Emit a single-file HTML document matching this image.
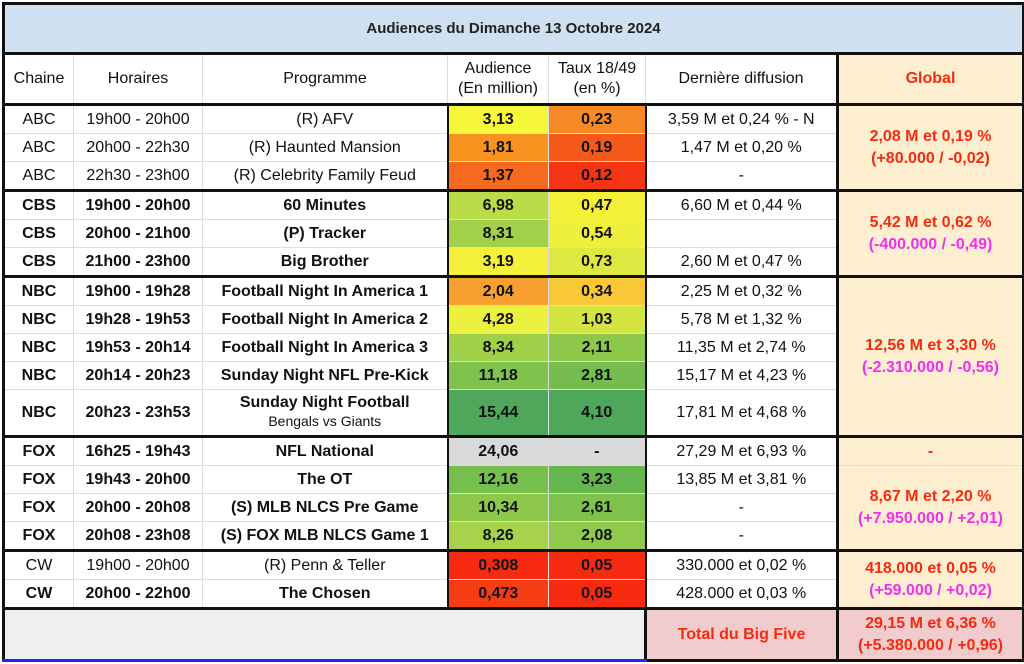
<!DOCTYPE html><html><head><style>
body{margin:0;background:#fff;width:1024px;height:664px;overflow:hidden;font-family:"Liberation Sans",Arial,sans-serif}
table{position:absolute;left:2px;top:2px;border-collapse:collapse;table-layout:fixed;width:1020px}
td{border:1px solid #ddd;text-align:center;font-size:16px;color:#111;padding:0;white-space:nowrap;overflow:hidden}
tr.r td{height:27px}
.t td{border-top:3px solid #111}
.g{background:#fdefcf;font-weight:bold;color:#f52a10;font-size:16px;border-left:3px solid #111;border-right:3px solid #111;line-height:22px}
.m{color:#f030f0}
.k{font-weight:bold}
</style></head><body>
<table>
<colgroup><col style="width:70px"><col style="width:129px"><col style="width:245px"><col style="width:101px"><col style="width:97px"><col style="width:192px"><col style="width:186px"></colgroup>
<tr><td colspan="7" style="height:47px;background:#cfe0f0;border:3px solid #111;font-weight:bold;font-size:15px;color:#222">Audiences du Dimanche 13 Octobre 2024</td></tr>
<tr><td style="height:48px;border-left:3px solid #111">Chaine</td><td>Horaires</td><td>Programme</td><td style="line-height:20px">Audience<br>(En million)</td><td style="line-height:20px">Taux 18/49<br>(en %)</td><td>Dernière diffusion</td><td class="g" style="border-top:3px solid #111">Global</td></tr>
<tr class="r t"><td style="border-left:3px solid #111">ABC</td><td>19h00 - 20h00</td><td>(R) AFV</td><td class="k" style="background:#f8f83a;border-left:2px solid #111">3,13</td><td class="k" style="background:#f78a24">0,23</td><td style="border-left:2px solid #111">3,59 M et 0,24 % - N</td><td class="g" rowspan="3">2,08 M et 0,19 %<br>(+80.000 / -0,02)</td></tr>
<tr class="r"><td style="border-left:3px solid #111">ABC</td><td>20h00 - 22h30</td><td>(R) Haunted Mansion</td><td class="k" style="background:#f7931e;border-left:2px solid #111">1,81</td><td class="k" style="background:#f55a1a">0,19</td><td style="border-left:2px solid #111">1,47 M et 0,20 %</td></tr>
<tr class="r"><td style="border-left:3px solid #111">ABC</td><td>22h30 - 23h00</td><td>(R) Celebrity Family Feud</td><td class="k" style="background:#f56a1e;border-left:2px solid #111">1,37</td><td class="k" style="background:#f53414">0,12</td><td style="border-left:2px solid #111">-</td></tr>
<tr class="r t"><td class="k" style="border-left:3px solid #111">CBS</td><td class="k">19h00 - 20h00</td><td class="k">60 Minutes</td><td class="k" style="background:#b9dc48;border-left:2px solid #111">6,98</td><td class="k" style="background:#f4f038">0,47</td><td style="border-left:2px solid #111">6,60 M et 0,44 %</td><td class="g" rowspan="3">5,42 M et 0,62 %<br><span class="m">(-400.000 / -0,49)</span></td></tr>
<tr class="r"><td class="k" style="border-left:3px solid #111">CBS</td><td class="k">20h00 - 21h00</td><td class="k">(P) Tracker</td><td class="k" style="background:#a3d04a;border-left:2px solid #111">8,31</td><td class="k" style="background:#eef03c">0,54</td><td style="border-left:2px solid #111"></td></tr>
<tr class="r"><td class="k" style="border-left:3px solid #111">CBS</td><td class="k">21h00 - 23h00</td><td class="k">Big Brother</td><td class="k" style="background:#f4f03c;border-left:2px solid #111">3,19</td><td class="k" style="background:#dfe840">0,73</td><td style="border-left:2px solid #111">2,60 M et 0,47 %</td></tr>
<tr class="r t"><td class="k" style="border-left:3px solid #111">NBC</td><td class="k">19h00 - 19h28</td><td class="k">Football Night In America 1</td><td class="k" style="background:#f7a030;border-left:2px solid #111">2,04</td><td class="k" style="background:#f8c836">0,34</td><td style="border-left:2px solid #111">2,25 M et 0,32 %</td><td class="g" rowspan="5">12,56 M et 3,30 %<br><span class="m">(-2.310.000 / -0,56)</span></td></tr>
<tr class="r"><td class="k" style="border-left:3px solid #111">NBC</td><td class="k">19h28 - 19h53</td><td class="k">Football Night In America 2</td><td class="k" style="background:#ecf03e;border-left:2px solid #111">4,28</td><td class="k" style="background:#d4e442">1,03</td><td style="border-left:2px solid #111">5,78 M et 1,32 %</td></tr>
<tr class="r"><td class="k" style="border-left:3px solid #111">NBC</td><td class="k">19h53 - 20h14</td><td class="k">Football Night In America 3</td><td class="k" style="background:#a0cf4a;border-left:2px solid #111">8,34</td><td class="k" style="background:#8ec84b">2,11</td><td style="border-left:2px solid #111">11,35 M et 2,74 %</td></tr>
<tr class="r"><td class="k" style="border-left:3px solid #111">NBC</td><td class="k">20h14 - 20h23</td><td class="k">Sunday Night NFL Pre-Kick</td><td class="k" style="background:#7fc24c;border-left:2px solid #111">11,18</td><td class="k" style="background:#74bd4e">2,81</td><td style="border-left:2px solid #111">15,17 M et 4,23 %</td></tr>
<tr><td class="k" style="height:45px;border-left:3px solid #111">NBC</td><td class="k">20h23 - 23h53</td><td style="line-height:18px"><b>Sunday Night Football</b><br><span style="font-size:14px">Bengals vs Giants</span></td><td class="k" style="background:#4ea75a;border-left:2px solid #111">15,44</td><td class="k" style="background:#4ea75a">4,10</td><td style="border-left:2px solid #111">17,81 M et 4,68 %</td></tr>
<tr class="r t"><td class="k" style="border-left:3px solid #111;border-bottom:1px dashed #111">FOX</td><td class="k" style="border-bottom:1px dashed #111">16h25 - 19h43</td><td class="k" style="border-bottom:1px dashed #111">NFL National</td><td class="k" style="background:#d9d9d9;border-left:2px solid #111">24,06</td><td class="k" style="background:#d9d9d9">-</td><td style="border-left:2px solid #111;border-bottom:1px dashed #111">27,29 M et 6,93 %</td><td class="g" style="border-bottom:1px dashed #111">-</td></tr>
<tr class="r"><td class="k" style="border-left:3px solid #111">FOX</td><td class="k">19h43 - 20h00</td><td class="k">The OT</td><td class="k" style="background:#76bf4d;border-left:2px solid #111">12,16</td><td class="k" style="background:#66b650">3,23</td><td style="border-left:2px solid #111">13,85 M et 3,81 %</td><td class="g" rowspan="3">8,67 M et 2,20 %<br><span class="m">(+7.950.000 / +2,01)</span></td></tr>
<tr class="r"><td class="k" style="border-left:3px solid #111">FOX</td><td class="k">20h00 - 20h08</td><td class="k">(S) MLB NLCS Pre Game</td><td class="k" style="background:#8ec84b;border-left:2px solid #111">10,34</td><td class="k" style="background:#7ec24c">2,61</td><td style="border-left:2px solid #111">-</td></tr>
<tr class="r"><td class="k" style="border-left:3px solid #111">FOX</td><td class="k">20h08 - 23h08</td><td class="k">(S) FOX MLB NLCS Game 1</td><td class="k" style="background:#a8d24a;border-left:2px solid #111">8,26</td><td class="k" style="background:#90c94b">2,08</td><td style="border-left:2px solid #111">-</td></tr>
<tr class="r t"><td style="border-left:3px solid #111">CW</td><td>19h00 - 20h00</td><td>(R) Penn &amp; Teller</td><td class="k" style="background:#f52a10;border-left:2px solid #111">0,308</td><td class="k" style="background:#f52a10">0,05</td><td style="border-left:2px solid #111">330.000 et 0,02 %</td><td class="g" rowspan="2">418.000 et 0,05 %<br><span class="m">(+59.000 / +0,02)</span></td></tr>
<tr class="r"><td class="k" style="border-left:3px solid #111">CW</td><td class="k">20h00 - 22h00</td><td class="k">The Chosen</td><td class="k" style="background:#f53c12;border-left:2px solid #111">0,473</td><td class="k" style="background:#f52a10">0,05</td><td style="border-left:2px solid #111">428.000 et 0,03 %</td></tr>
<tr class="t"><td colspan="5" style="height:49px;background:#efefef;border-left:3px solid #111;border-bottom:3px solid #22f"></td><td style="background:#f2cccc;border-left:3px solid #111;border-bottom:3px solid #111;color:#f52a10;font-weight:bold">Total du Big Five</td><td class="g" style="background:#f2cccc;border-bottom:3px solid #111">29,15 M et 6,36 %<br>(+5.380.000 / +0,96)</td></tr>
</table>
</body></html>
